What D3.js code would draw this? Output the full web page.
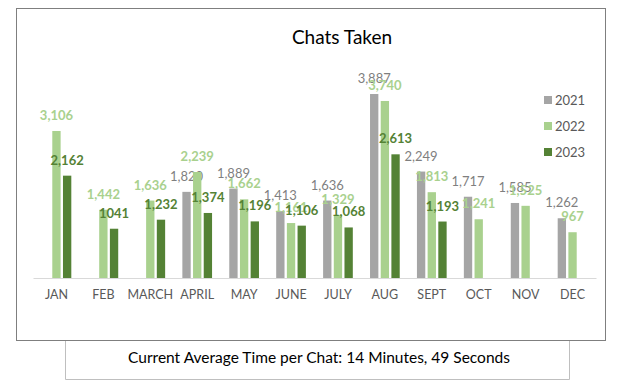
<!DOCTYPE html>
<html>
<head>
<meta charset="utf-8">
<script src="https://cdn.jsdelivr.net/npm/d3@7"></script>
<style>
  body { margin: 0; background: #fff; }
  svg { display: block; font-family: Lato, "Open Sans", sans-serif; }
</style>
</head>
<body>
<div class="c_chart"></div>
<script>
/* DATA */
const months = ["JAN","FEB","MARCH","APRIL","MAY","JUNE","JULY","AUG","SEPT","OCT","NOV","DEC"];
const years = ["2021","2022","2023"];
const v2021 = [null, null, null, 1820, 1889, 1413, 1636, 3887, 2249, 1717, 1585, 1262];
const v2022 = [3106, 1442, 1636, 2239, 1662, 1161, 1329, 3740, 1813, 1241, 1525, 967];
const v2023 = [2162, 1041, 1232, 1374, 1196, 1106, 1068, 2613, 1193, null, null, null];
const labels2023 = ["2,162","1041","1,232","1,374","1,196","1,106","1,068","2,613","1,193",null,null,null];
const colors = ["#a5a5a5", "#a9d18e", "#548235"];
const labelColors = ["#7f7f7f", "#a9d18e", "#548235"];
const title = "Chats Taken";
const footer = "Current Average Time per Chat: 14 Minutes, 49 Seconds";

const width = 622, height = 387;
const series = [v2021, v2022, v2023];

let svg = d3.select(".c_chart").append("svg")
	.attr("width", width)
	.attr("height", height);

/* frames */
svg.append("rect")
	.attr("x", 16.5).attr("y", 8.5).attr("width", 589).attr("height", 332)
	.attr("fill", "#fff").attr("stroke", "#7f7f7f");
svg.append("path")
	.attr("d", "M65.5,341V379.5H569.5V341")
	.attr("fill", "none").attr("stroke", "#bfbfbf");

/* scales */
const x0 = d3.scaleBand().domain(months).range([33, 596])
	.paddingInner(0.367).paddingOuter(0.1835);
const x1 = d3.scaleBand().domain(years).range([0, x0.bandwidth()])
	.paddingInner(0.22);
const y = d3.scaleLinear().domain([0, 4500]).range([278, 65]);

/* title */
svg.append("text")
	.attr("x", 342).attr("y", 44)
	.attr("text-anchor", "middle")
	.attr("font-size", 19).attr("fill", "#000")
	.text(title);

/* axis */
const xAxis = svg.append("g")
	.attr("transform", `translate(0,${y(0)})`)
	.call(d3.axisBottom(x0).tickSize(0).tickPadding(12));
xAxis.select(".domain").attr("stroke", "#d9d9d9");
xAxis.selectAll("text").attr("font-size", 12.5).attr("fill", "#595959")
	.attr("font-family", "Lato, sans-serif");

/* bars + labels */
years.forEach((yr, i) => {
	const g = svg.append("g");
	const data = months.map((m, j) => ({m, v: series[i][j], j})).filter(d => d.v != null);
	g.selectAll("rect").data(data).enter().append("rect")
		.attr("x", d => x0(d.m) + x1(yr))
		.attr("width", x1.bandwidth())
		.attr("y", d => y(d.v))
		.attr("height", d => y(0) - y(d.v))
		.attr("fill", colors[i]);
	g.selectAll("text").data(data).enter().append("text")
		.attr("x", d => x0(d.m) + x1(yr) + x1.bandwidth() / 2)
		.attr("y", d => y(d.v) - 11)
		.attr("text-anchor", "middle")
		.attr("font-size", 13)
		.attr("font-weight", i === 0 ? "normal" : "bold")
		.attr("fill", labelColors[i])
		.text(d => i === 2 ? labels2023[d.j] : d3.format(",")(d.v));
});

/* legend */
const legend = svg.append("g").attr("transform", "translate(544,100)");
years.forEach((yr, i) => {
	const r = legend.append("g").attr("transform", `translate(0,${i * 26})`);
	r.append("rect").attr("x", 0).attr("y", -4).attr("width", 8).attr("height", 8)
		.attr("fill", colors[i]);
	r.append("text").attr("x", 11).attr("y", 4.5)
		.attr("font-size", 13).attr("fill", "#595959").text(yr);
});

/* footer */
svg.append("text")
	.attr("x", 319).attr("y", 363)
	.attr("text-anchor", "middle")
	.attr("font-size", 15.5).attr("fill", "#000")
	.text(footer);
</script>
</body>
</html>
